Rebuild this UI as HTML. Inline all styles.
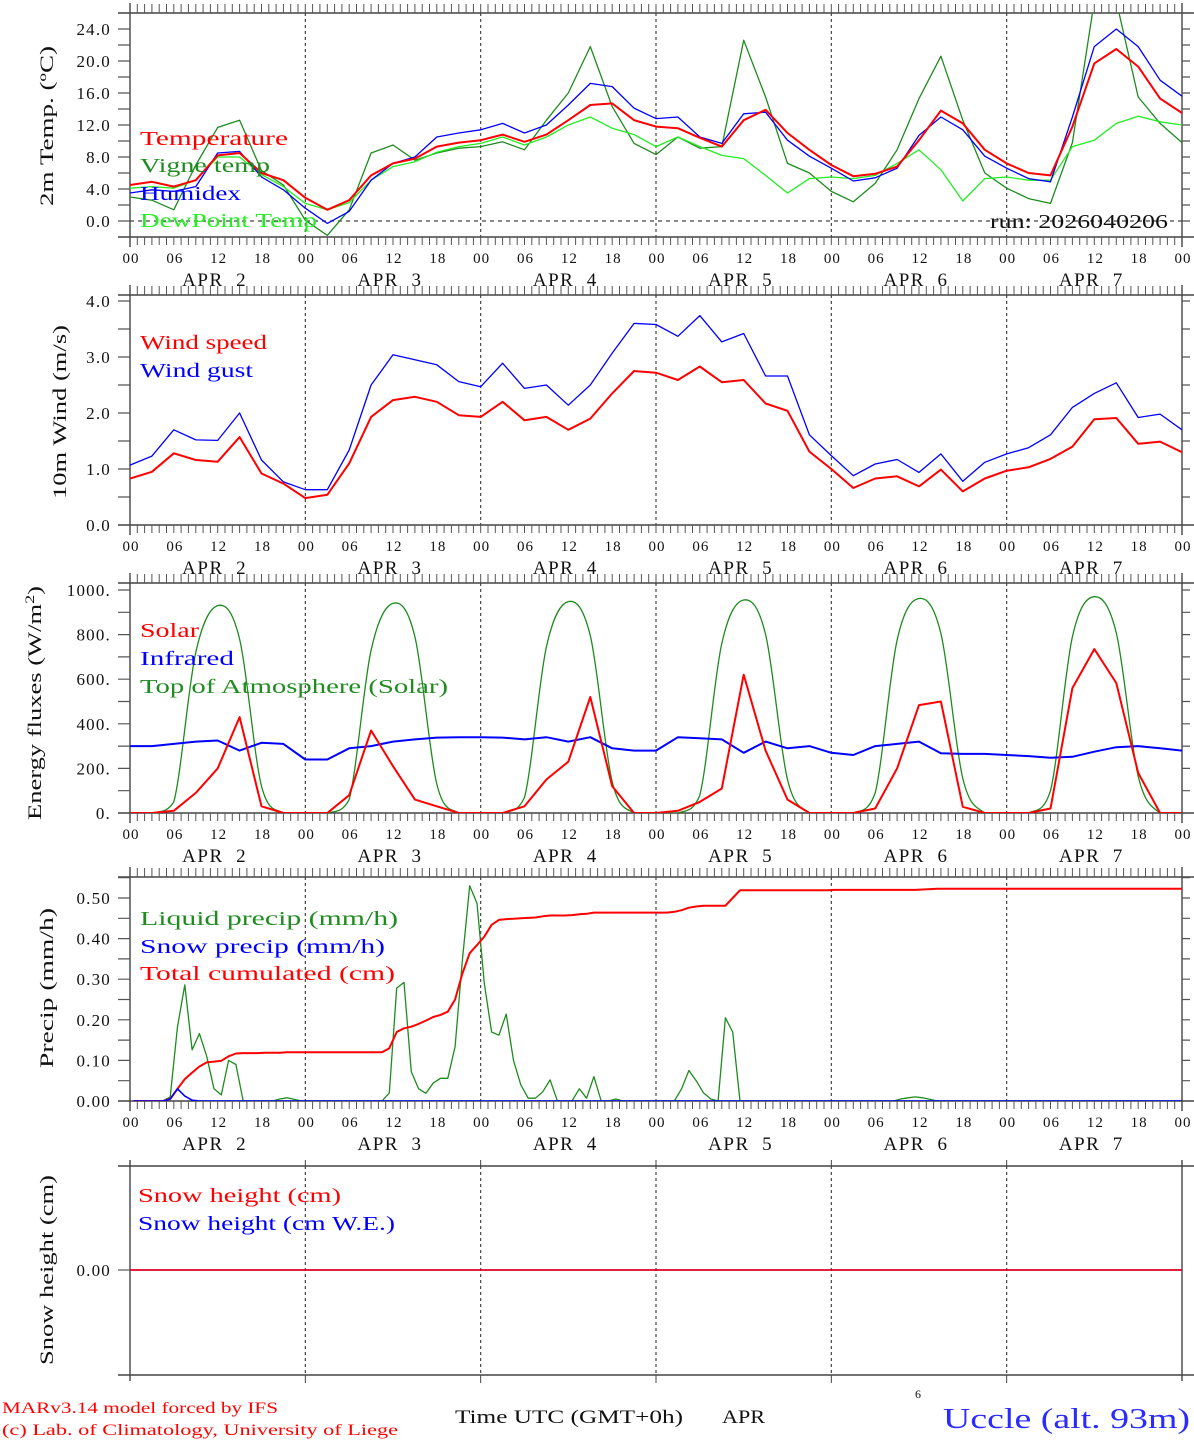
<!DOCTYPE html>
<html><head><meta charset="utf-8"><title>MAR forecast Uccle</title>
<style>
html,body{margin:0;padding:0;background:#fff;}
svg{display:block;}
text{font-family:"Liberation Serif","DejaVu Serif",serif;}
</style></head>
<body>
<svg id="chart" xmlns="http://www.w3.org/2000/svg" width="1194" height="1440" viewBox="0 0 1194 1440">
<rect x="0" y="0" width="1194" height="1440" fill="#fff"/>
<g id="frames"></g>
<g id="series"></g>
<g id="labels">
  <text x="140" y="145" font-size="20" fill="#ff0000" textLength="148" lengthAdjust="spacingAndGlyphs">Temperature</text>
  <text x="140" y="172" font-size="20" fill="#1e8c1e" textLength="130" lengthAdjust="spacingAndGlyphs">Vigne temp</text>
  <text x="140" y="200" font-size="20" fill="#0000ff" textLength="101" lengthAdjust="spacingAndGlyphs">Humidex</text>
  <text x="140" y="227" font-size="20" fill="#22ee22" textLength="177" lengthAdjust="spacingAndGlyphs">DewPoint Temp</text>
  <text x="990" y="228" font-size="20" fill="#111" textLength="178" lengthAdjust="spacingAndGlyphs">run: 2026040206</text>

  <text x="140" y="349" font-size="20" fill="#ff0000" textLength="127" lengthAdjust="spacingAndGlyphs">Wind speed</text>
  <text x="140" y="377" font-size="20" fill="#0000ff" textLength="113" lengthAdjust="spacingAndGlyphs">Wind gust</text>

  <text x="140" y="637" font-size="20" fill="#ff0000" textLength="59" lengthAdjust="spacingAndGlyphs">Solar</text>
  <text x="140" y="665" font-size="20" fill="#0000ff" textLength="94" lengthAdjust="spacingAndGlyphs">Infrared</text>
  <text x="140" y="693" font-size="20" fill="#1e8c1e" textLength="308" lengthAdjust="spacingAndGlyphs">Top of Atmosphere (Solar)</text>

  <text x="140" y="925" font-size="20" fill="#1e8c1e" textLength="258" lengthAdjust="spacingAndGlyphs">Liquid precip (mm/h)</text>
  <text x="140" y="953" font-size="20" fill="#0000ff" textLength="245" lengthAdjust="spacingAndGlyphs">Snow precip (mm/h)</text>
  <text x="140" y="980" font-size="20" fill="#ff0000" textLength="255" lengthAdjust="spacingAndGlyphs">Total cumulated (cm)</text>

  <text x="138" y="1202" font-size="20" fill="#ff0000" textLength="203" lengthAdjust="spacingAndGlyphs">Snow height (cm)</text>
  <text x="138" y="1230" font-size="20" fill="#0000ff" textLength="257" lengthAdjust="spacingAndGlyphs">Snow height (cm W.E.)</text>

  <text transform="translate(53,126) rotate(-90)" text-anchor="middle" font-size="19" fill="#111" textLength="160" lengthAdjust="spacingAndGlyphs">2m Temp. (ºC)</text>
  <text transform="translate(66,412) rotate(-90)" text-anchor="middle" font-size="19" fill="#111" textLength="174" lengthAdjust="spacingAndGlyphs">10m Wind (m/s)</text>
  <text transform="translate(41,703) rotate(-90)" text-anchor="middle" font-size="19" fill="#111" textLength="234" lengthAdjust="spacingAndGlyphs">Energy fluxes (W/m<tspan dy="-7" font-size="13">2</tspan><tspan dy="7">)</tspan></text>
  <text transform="translate(53,988) rotate(-90)" text-anchor="middle" font-size="19" fill="#111" textLength="160" lengthAdjust="spacingAndGlyphs">Precip (mm/h)</text>
  <text transform="translate(53,1270) rotate(-90)" text-anchor="middle" font-size="19" fill="#111" textLength="190" lengthAdjust="spacingAndGlyphs">Snow height (cm)</text>

  <text x="2" y="1413" font-size="16" fill="#ff0000" textLength="276" lengthAdjust="spacingAndGlyphs">MARv3.14 model forced by IFS</text>
  <text x="2" y="1435" font-size="16" fill="#ff0000" textLength="396" lengthAdjust="spacingAndGlyphs">(c) Lab. of Climatology, University of Liege</text>
  <text x="455" y="1423" font-size="19" fill="#111" textLength="228" lengthAdjust="spacingAndGlyphs">Time UTC (GMT+0h)</text>
  <text x="722" y="1423" font-size="19" fill="#111" textLength="43" lengthAdjust="spacingAndGlyphs">APR</text>
  <text x="915" y="1398" font-size="12" fill="#111">6</text>
  <text x="943" y="1428" font-size="28" fill="#2b2bff" textLength="247" lengthAdjust="spacingAndGlyphs">Uccle (alt. 93m)</text>
</g>
</svg>
<script>
// ---------- data: 3-hourly (h = 0,3,...,144) ----------
const hours3 = [0,3,6,9,12,15,18,21,24,27,30,33,36,39,42,45,48,51,54,57,60,63,66,69,72,75,78,81,84,87,90,93,96,99,102,105,108,111,114,117,120,123,126,129,132,135,138,141,144];
const dayLabels = ["APR  2","APR  3","APR  4","APR  5","APR  6","APR  7"];
const hourTickLabels = ["00","06","12","18"];

const tempT = [4.5,4.9,4.3,5.1,8.2,8.5,6.0,5.1, 2.9,1.4,2.6,5.7,7.2,7.8,9.3,9.8, 10.1,10.8,9.9,10.8,12.6,14.5,14.7,12.6, 11.8,11.6,10.4,9.3,12.6,13.9,11.0,8.9, 7.0,5.6,5.9,6.8,10.1,13.8,12.2,8.9, 7.2,6.0,5.7,11.8,19.7,21.5,19.3,15.3, 13.5];
const tempVigne = [3.0,2.6,1.4,7.0,11.7,12.6,6.3,4.5, 0.1,-1.8,1.4,8.5,9.5,7.6,8.5,9.1, 9.3,9.9,8.9,12.6,16.0,21.8,14.3,9.7, 8.3,10.5,9.1,9.3,22.6,15.5,7.2,6.0, 3.7,2.4,4.7,8.9,15.3,20.6,12.6,6.0, 4.1,2.8,2.2,9.8,27.5,27.5,15.5,12.2, 9.8];
const tempHumidex = [3.5,3.9,3.7,4.3,8.5,8.7,5.5,3.9, 1.6,-0.3,1.2,5.1,7.2,8.0,10.5,11.0, 11.4,12.2,11.0,12.0,14.5,17.2,16.8,14.1, 12.8,13.0,10.5,9.7,13.4,13.6,10.1,8.1, 6.6,5.0,5.4,6.6,10.7,13.0,11.4,8.1, 6.6,5.3,4.9,13.0,21.8,24.0,21.8,17.6, 15.6];
const tempDew = [4.1,4.3,4.1,5.1,8.0,8.0,5.8,4.3, 2.2,1.4,2.3,5.1,6.8,7.4,8.6,9.3, 9.7,10.5,9.5,10.5,12.0,13.0,11.6,10.8, 9.3,10.5,9.3,8.2,7.8,5.7,3.5,5.3, 5.5,5.3,5.7,7.2,8.9,6.4,2.5,5.3, 5.5,5.1,5.1,9.3,10.1,12.2,13.1,12.4, 12.0];
const tempTicks = [0,4,8,12,16,20,24];
const tempTickLabels = ["0.0","4.0","8.0","12.0","16.0","20.0","24.0"];

const windSpeed = [0.83,0.95,1.28,1.16,1.13,1.57,0.92,0.74, 0.48,0.54,1.10,1.93,2.23,2.29,2.20,1.96, 1.93,2.20,1.87,1.93,1.70,1.90,2.35,2.75, 2.72,2.59,2.83,2.55,2.59,2.17,2.04,1.31, 1.00,0.66,0.83,0.87,0.69,0.99,0.60,0.83, 0.97,1.03,1.18,1.40,1.89,1.91,1.45,1.49, 1.30];
const windGust = [1.07,1.23,1.70,1.52,1.51,2.00,1.16,0.77, 0.63,0.63,1.34,2.50,3.04,2.95,2.86,2.56, 2.47,2.89,2.44,2.50,2.14,2.50,3.07,3.60, 3.58,3.37,3.74,3.27,3.42,2.66,2.66,1.61, 1.24,0.88,1.09,1.17,0.94,1.27,0.78,1.12, 1.27,1.38,1.61,2.10,2.35,2.54,1.92,1.98, 1.70];
const windTicks = [0,1,2,3,4];
const windTickLabels = ["0.0","1.0","2.0","3.0","4.0"];

const fluxSolar = [0,0,10,90,200,430,30,0, 0,0,80,370,210,60,30,0, 0,0,30,150,230,520,120,0, 0,10,50,110,620,280,60,0, 0,0,20,200,484,500,28,0, 0,0,20,560,735,583,180,0, 0];
const fluxIR = [300,300,310,320,325,280,315,310, 240,240,290,300,320,330,338,340, 340,338,330,340,320,340,290,280, 280,340,335,330,270,320,290,300, 270,260,300,310,320,268,265,265, 260,255,248,252,275,295,300,290, 280];
const fluxTOA = [0,0,50,720,930,780,120,0, 0,0,60,730,940,790,130,0, 0,0,70,745,948,795,140,0, 0,0,80,760,955,800,150,0, 0,0,90,775,962,805,155,0, 0,0,100,790,970,807,165,0, 0];
const fluxTicks = [0,200,400,600,800,1000];
const fluxTickLabels = ["0.","200.","400.","600.","800.","1000."];

// ---------- precip: hourly intervals (index 0..144) ----------
const precipLiquid = [
0,0,0,0,0,0.01,0.183,0.286,0.126,0.166,0.11,0.03,0.015,0.10,0.09,0,0,0,0,0,0.005,0.008,0.004,0,
0,0,0,0,0,0,0,0,0,0,0,0.02,0.278,0.292,0.072,0.03,0.019,0.044,0.056,0.056,0.134,0.347,0.53,0.487,
0.29,0.17,0.162,0.214,0.10,0.04,0.007,0.007,0.023,0.052,0,0,0,0.03,0.007,0.06,0,0,0.005,0,0,0,0,0,
0,0,0,0.03,0.075,0.05,0.02,0.005,0,0.205,0.17,0,0,0,0,0,0,0,0,0,0,0,0,0,
0,0,0,0,0,0,0,0,0,0.005,0.008,0.01,0.008,0.004,0,0,0,0,0,0,0,0,0,0,
0,0,0,0,0,0,0,0,0,0,0,0,0,0,0,0,0,0,0,0,0,0,0,0,
0];
const precipSnow = [
0,0,0,0,0,0.005,0.03,0.012,0.002,0,0,0,0,0,0,0,0,0,0,0,0,0,0,0,
0,0,0,0,0,0,0,0,0,0,0,0,0,0,0,0,0,0,0,0,0,0,0,0,
0,0,0,0,0,0,0,0,0,0,0,0,0,0,0,0,0,0,0,0,0,0,0,0,
0,0,0,0,0,0,0,0,0,0,0,0,0,0,0,0,0,0,0,0,0,0,0,0,
0,0,0,0,0,0,0,0,0,0,0,0,0,0,0,0,0,0,0,0,0,0,0,0,
0,0,0,0,0,0,0,0,0,0,0,0,0,0,0,0,0,0,0,0,0,0,0,0,
0];
const precipCumul = [
0,0,0,0,0,0.005,0.03,0.054,0.07,0.085,0.095,0.097,0.099,0.11,0.117,0.118,0.118,0.118,0.119,0.119,0.119,0.12,0.12,0.12,
0.12,0.12,0.12,0.12,0.12,0.12,0.12,0.12,0.12,0.12,0.12,0.13,0.17,0.179,0.183,0.19,0.198,0.207,0.212,0.22,0.25,0.314,0.364,0.384,
0.405,0.434,0.446,0.448,0.449,0.45,0.451,0.452,0.455,0.457,0.457,0.457,0.458,0.46,0.461,0.464,0.464,0.464,0.464,0.464,0.464,0.464,0.464,0.464,
0.464,0.464,0.466,0.47,0.476,0.479,0.481,0.481,0.481,0.481,0.50,0.519,0.519,0.519,0.519,0.519,0.519,0.519,0.519,0.519,0.519,0.519,0.519,0.519,
0.52,0.52,0.52,0.52,0.52,0.52,0.52,0.52,0.52,0.52,0.52,0.52,0.521,0.522,0.523,0.523,0.523,0.523,0.523,0.523,0.523,0.523,0.523,0.523,
0.523,0.523,0.523,0.523,0.523,0.523,0.523,0.523,0.523,0.523,0.523,0.523,0.523,0.523,0.523,0.523,0.523,0.523,0.523,0.523,0.523,0.523,0.523,0.523,
0.523];
const precipTicks = [0,0.1,0.2,0.3,0.4,0.5];
const precipTickLabels = ["0.00","0.10","0.20","0.30","0.40","0.50"];

const snowHeight = [0,0,0,0,0,0,0,0, 0,0,0,0,0,0,0,0, 0,0,0,0,0,0,0,0, 0,0,0,0,0,0,0,0, 0,0,0,0,0,0,0,0, 0,0,0,0,0,0,0,0, 0];
const snowHeightWE = [0,0,0,0,0,0,0,0, 0,0,0,0,0,0,0,0, 0,0,0,0,0,0,0,0, 0,0,0,0,0,0,0,0, 0,0,0,0,0,0,0,0, 0,0,0,0,0,0,0,0, 0];
const snowTicks = [0];
const snowTickLabels = ["0.00"];

// ---------- rendering ----------
const NS = "http://www.w3.org/2000/svg";
const X0 = 130, X1 = 1182, HMAX = 144;
function xh(h){ return X0 + (X1 - X0) * h / HMAX; }
function mk(tag, attrs, parent){
  const e = document.createElementNS(NS, tag);
  for (const k in attrs) e.setAttribute(k, attrs[k]);
  parent.appendChild(e);
  return e;
}
const frames = document.getElementById('frames');
const series = document.getElementById('series');

const panels = [
  {id:'temp',  top:13,  bottom:237, vmin:-2, vmax:26, minor:2, ticks:tempTicks, labels:tempTickLabels, zeroDash:true, hourTicks:true},
  {id:'wind',  top:295, bottom:525, vmin:0, vmax:230/56, minor:0.5, ticks:windTicks, labels:windTickLabels, hourTicks:true},
  {id:'flux',  top:583, bottom:813, vmin:0, vmax:230/0.223, minor:100, ticks:fluxTicks, labels:fluxTickLabels, hourTicks:true},
  {id:'precip',top:877, bottom:1101,vmin:0, vmax:224/406, minor:0.05, ticks:precipTicks, labels:precipTickLabels, hourTicks:true},
  {id:'snow',  top:1166,bottom:1375,vmin:-1.01, vmax:1, minor:null, ticks:snowTicks, labels:snowTickLabels, hourTicks:false}
];
panels.forEach(p => { p.y = v => p.bottom - (v - p.vmin) / (p.vmax - p.vmin) * (p.bottom - p.top); });

panels.forEach((p, pi) => {
  const g = mk('g', {}, frames);
  
  
  const cp = mk('clipPath', {id:'clip-' + p.id}, g);
  mk('rect', {x:X0, y:p.top, width:X1 - X0, height:p.bottom - p.top}, cp);
  const top = mk('line', {x1:118, x2:1194, y1:p.top, y2:p.top, stroke:'#444', 'stroke-width':1.4}, g);
  
  
  const bot = mk('line', {x1:118, x2:1194, y1:p.bottom, y2:p.bottom, stroke:'#444', 'stroke-width':1.4}, g);
  
  
  const ext = p.hourTicks ? 10 : 6;
  const la = mk('line', {x1:X0, x2:X0, y1:p.top - ext, y2:p.bottom + ext, stroke:'#444', 'stroke-width':1.4}, g);
  
  
  const ra = mk('line', {x1:X1, x2:X1, y1:p.top - ext, y2:p.bottom + ext, stroke:'#444', 'stroke-width':1.4}, g);
  
  
  if (p.hourTicks) {
    let d = '';
    for (let h = 1; h < HMAX; h++) {
      const x = xh(h).toFixed(1);
      d += `M${x} ${p.top - 9}V${p.top}M${x} ${p.bottom}V${p.bottom + 8}`;
    }
    const t = mk('path', {d:d, stroke:'#555', 'stroke-width':1}, g);
    
    
  }
  for (let dday = 1; dday < 6; dday++) {
    const x = xh(dday * 24);
    const dl = mk('line', {x1:x, x2:x, y1:p.top, y2:p.bottom, stroke:'#444', 'stroke-width':1.2, 'stroke-dasharray':'3,3'}, g);
    
    
    if (!p.hourTicks) {
      mk('line', {x1:x, x2:x, y1:p.top - 6, y2:p.top, stroke:'#444'}, g);
      mk('line', {x1:x, x2:x, y1:p.bottom, y2:p.bottom + 8, stroke:'#444'}, g);
    }
  }
  if (p.minor) {
    let d = '';
    for (let v = p.ticks[0]; v <= p.vmax + 1e-9; v += p.minor) {
      if (v <= p.vmin + 1e-9) continue;
      const y = p.y(v).toFixed(1);
      d += `M118 ${y}H${X0}M${X1} ${y}H1190`;
    }
    const yt = mk('path', {d:d, stroke:'#555', 'stroke-width':1.2}, g);
    
    
  } else {
    const y = p.y(0);
    mk('line', {x1:118, x2:X0, y1:y, y2:y, stroke:'#555', 'stroke-width':1.2}, g);
  }
  p.ticks.forEach((v, i) => {
    const t = mk('text', {x:111, y:p.y(v) + 6, 'text-anchor':'end', 'font-size':17, fill:'#111', 'letter-spacing':'1.2'}, g);
    
    
    t.textContent = p.labels[i];
  });
  if (p.zeroDash) {
    const y = p.y(0);
    const z = mk('line', {x1:X0, x2:X1, y1:y, y2:y, stroke:'#444', 'stroke-width':1.2, 'stroke-dasharray':'4,4'}, g);
    
    
  }
  if (p.hourTicks) {
    for (let dday = 0; dday <= 6; dday++) {
      for (let k = 0; k < 4; k++) {
        if (dday === 6 && k > 0) break;
        const t = mk('text', {x:xh(dday * 24 + k * 6) + 1, y:p.bottom + 26, 'text-anchor':'middle', 'font-size':15, fill:'#111', 'letter-spacing':'1'}, g);
        
        
        t.textContent = hourTickLabels[k];
      }
      if (dday < 6) {
        const t = mk('text', {x:xh(dday * 24 + 12) - 3, y:p.bottom + 49, 'text-anchor':'middle', 'font-size':19, fill:'#111', 'xml:space':'preserve', 'letter-spacing':'1.5'}, g);
        
        
        t.style.whiteSpace = 'pre';
        t.textContent = dayLabels[dday];
      }
    }
  }
});

function drawLine(p, hs, vals, color, width, name, offset, smooth){
  const P = vals.map((v, i) => [xh(hs[i] + (offset || 0)), p.y(v)]);
  let d = 'M' + P[0][0].toFixed(1) + ' ' + P[0][1].toFixed(1);
  for (let i = 1; i < P.length; i++) {
    if (smooth) {
      const p0 = P[Math.max(0, i - 2)], p1 = P[i - 1], p2 = P[i], p3 = P[Math.min(P.length - 1, i + 1)];
      let c1y = p1[1] + (p2[1] - p0[1]) / 6, c2y = p2[1] - (p3[1] - p1[1]) / 6;
      c1y = Math.min(c1y, p.bottom + 0.5); c2y = Math.min(c2y, p.bottom + 0.5);
      d += `C${(p1[0] + (p2[0] - p0[0]) / 6).toFixed(1)} ${c1y.toFixed(1)} ${(p2[0] - (p3[0] - p1[0]) / 6).toFixed(1)} ${c2y.toFixed(1)} ${p2[0].toFixed(1)} ${p2[1].toFixed(1)}`;
    } else {
      d += 'L' + P[i][0].toFixed(1) + ' ' + P[i][1].toFixed(1);
    }
  }
  const l = mk('path', {d:d, fill:'none', stroke:color, 'stroke-width':width, 'stroke-linejoin':'round', 'clip-path':'url(#clip-' + p.id + ')'}, series);
  
  
}
const hours1 = precipLiquid.map((v, i) => i);
const [PT, PW, PF, PP, PS] = panels;
drawLine(PT, hours3, tempVigne, '#1e8c1e', 1.3, 'vigne-temp-line');
drawLine(PT, hours3, tempDew, '#22ee22', 1.3, 'dewpoint-line');
drawLine(PT, hours3, tempHumidex, '#0000ff', 1.3, 'humidex-line');
drawLine(PT, hours3, tempT, '#ff0000', 2, 'temperature-line');
drawLine(PW, hours3, windGust, '#0000ff', 1.3, 'wind-gust-line');
drawLine(PW, hours3, windSpeed, '#ff0000', 2, 'wind-speed-line');
drawLine(PF, hours3, fluxTOA, '#1e8c1e', 1.3, 'toa-solar-line', 0, true);
drawLine(PF, hours3, fluxIR, '#0000ff', 2, 'infrared-line');
drawLine(PF, hours3, fluxSolar, '#ff0000', 2, 'solar-line');
drawLine(PP, hours1, precipLiquid, '#1e8c1e', 1.3, 'liquid-precip-line', 0.5);
drawLine(PP, hours1, precipCumul, '#ff0000', 2, 'total-cumulated-line', 0.5);
drawLine(PP, hours1, precipSnow, '#0000ff', 1.6, 'snow-precip-line', 0.5);
drawLine(PS, hours3, snowHeightWE, '#0000ff', 1.6, 'snow-height-we-line');
drawLine(PS, hours3, snowHeight, '#ff0000', 1.6, 'snow-height-line');
</script>
</body></html>
